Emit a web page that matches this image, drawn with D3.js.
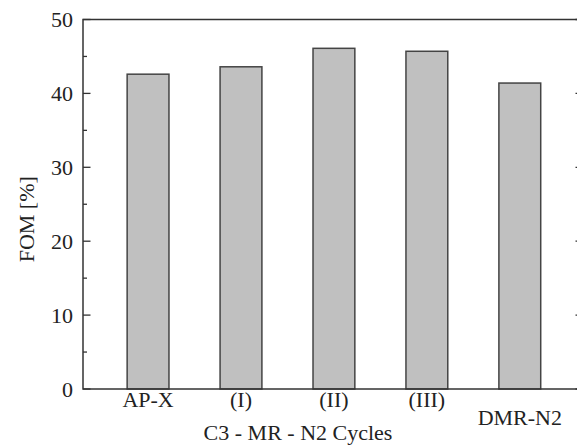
<!DOCTYPE html>
<html>
<head>
<meta charset="utf-8">
<script src="https://cdn.jsdelivr.net/npm/d3@7"></script>
<style>
  html, body { margin: 0; padding: 0; background: #fff; }
  svg { display: block; }
  text { font-family: "Liberation Serif", "Times New Roman", serif; fill: #222; }
</style>
</head>
<body>
<div id="chart"></div>
<script>
  // FOM of the C3-MR-N2 cycle variants vs. the reference processes.
  const categories = ["AP-X", "(I)", "(II)", "(III)", "DMR-N2"];
  const fom = [42.6, 43.6, 46.1, 45.7, 41.4];
  const yTicks = [0, 10, 20, 30, 40, 50];
  const yMinor = [5, 15, 25, 35, 45];

  const W = 577, H = 445;
  const m = { t: 19.5, r: -6, b: 56, l: 83 };
  const svg = d3.select("#chart").append("svg").attr("width", W).attr("height", H);

  // bars sit at positions 1..5 on a linear axis, as in the original plot
  const x = d3.scaleLinear().domain([0.3, 5.68]).range([m.l, W - m.r]);
  const y = d3.scaleLinear().domain([0, 50]).range([H - m.b, m.t]);
  const barW = 0.45;

  svg.selectAll("rect.bar").data(fom).join("rect")
    .attr("class", "bar")
    .attr("x", (d, i) => x(i + 1 - barW / 2))
    .attr("width", x(1 + barW) - x(1))
    .attr("y", (d) => y(d))
    .attr("height", (d) => y(0) - y(d))
    .attr("fill", "#c0c0c0").attr("stroke", "#444").attr("stroke-width", 1.5);

  // frame
  const frame = svg.append("g").attr("stroke", "#333").attr("stroke-width", 1.5).attr("fill", "none");
  frame.append("rect").attr("x", x.range()[0]).attr("y", y(50))
    .attr("width", x.range()[1] - x.range()[0]).attr("height", y(0) - y(50));

  // left / right ticks, inward
  const ticks = svg.append("g").attr("stroke", "#333").attr("stroke-width", 1.3);
  [[x.range()[0], 1], [x.range()[1], -1]].forEach(([x0, dir]) => {
    ticks.selectAll(null).data(yTicks).join("line")
      .attr("x1", x0).attr("x2", x0 + dir * 7.5).attr("y1", (d) => y(d)).attr("y2", (d) => y(d));
    ticks.selectAll(null).data(yMinor).join("line")
      .attr("x1", x0).attr("x2", x0 + dir * 4).attr("y1", (d) => y(d)).attr("y2", (d) => y(d));
  });

  svg.append("g").selectAll("text").data(yTicks).join("text")
    .attr("x", 73).attr("y", (d) => y(d) + 7.5).attr("text-anchor", "end")
    .style("font-size", "22px").text((d) => d);

  svg.append("g").selectAll("text").data(categories).join("text")
    .attr("x", (d, i) => x(i + 1)).attr("y", (d, i) => i === 4 ? 425 : 407)
    .attr("text-anchor", "middle").style("font-size", "22px").text((d) => d);

  svg.append("text").attr("x", 298).attr("y", 440).attr("text-anchor", "middle")
    .style("font-size", "22px").text("C3 - MR - N2 Cycles");

  svg.append("text").attr("transform", `translate(34,${(y(0) + y(50)) / 2 + 15}) rotate(-90)`)
    .attr("text-anchor", "middle").style("font-size", "22px").text("FOM [%]");
</script>
</body>
</html>
